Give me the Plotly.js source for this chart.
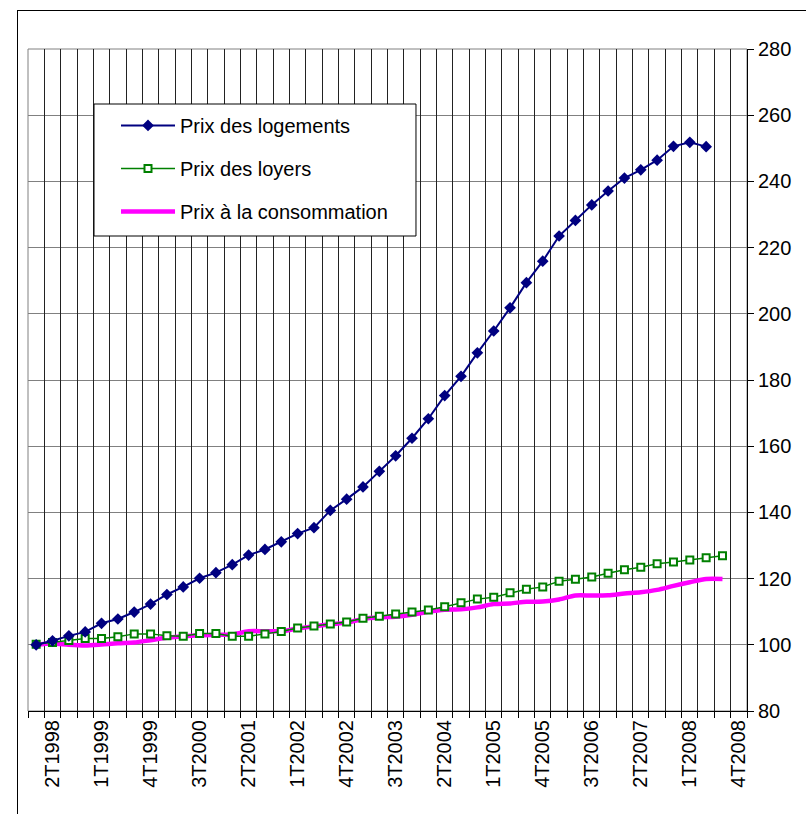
<!DOCTYPE html>
<html>
<head>
<meta charset="utf-8">
<script src="https://cdn.plot.ly/plotly-3.0.1.min.js"></script>
<style>
  html, body { margin: 0; padding: 0; background: #fff; }
  #frame { position: absolute; left: 17px; top: 10px; width: 900px; height: 900px; border-left: 1px solid #000; border-top: 1px solid #000; }
  #chart { position: absolute; left: 0; top: 0; width: 806px; height: 814px; }
</style>
</head>
<body>
<div id="frame"></div>
<div id="chart"></div>
<script>
const categories = [
  "1T1998","2T1998","3T1998","4T1998",
  "1T1999","2T1999","3T1999","4T1999",
  "1T2000","2T2000","3T2000","4T2000",
  "1T2001","2T2001","3T2001","4T2001",
  "1T2002","2T2002","3T2002","4T2002",
  "1T2003","2T2003","3T2003","4T2003",
  "1T2004","2T2004","3T2004","4T2004",
  "1T2005","2T2005","3T2005","4T2005",
  "1T2006","2T2006","3T2006","4T2006",
  "1T2007","2T2007","3T2007","4T2007",
  "1T2008","2T2008","3T2008","4T2008"
];
const tickLabels = ["2T1998","1T1999","4T1999","3T2000","2T2001","1T2002","4T2002","3T2003","2T2004","1T2005","4T2005","3T2006","2T2007","1T2008","4T2008"];

const prixLogements = [100.0, 101.2, 102.7, 103.9, 106.5, 107.8, 109.9, 112.3, 115.2, 117.5,
  120.1, 121.8, 124.2, 127.1, 128.8, 131.1, 133.6, 135.4, 140.6, 144.0,
  147.7, 152.4, 157.1, 162.4, 168.3, 175.3, 181.1, 188.2, 194.8, 201.8,
  209.4, 215.9, 223.5, 228.2, 232.9, 237.1, 241.0, 243.5, 246.4, 250.6,
  251.8, 250.5];
const prixLoyers = [100.2, 100.7, 101.3, 101.9, 101.9, 102.4, 103.3, 103.3, 102.7, 102.6,
  103.4, 103.4, 102.6, 102.6, 103.3, 104.0, 105.1, 105.7, 106.3, 106.9,
  108.0, 108.6, 109.3, 109.9, 110.5, 111.5, 112.7, 113.8, 114.4, 115.7,
  116.8, 117.5, 119.2, 119.8, 120.5, 121.6, 122.7, 123.4, 124.5, 125.0,
  125.6, 126.3, 126.9];
const prixConsommation = [100.0, 100.4, 100.0, 99.8, 100.1, 100.5, 100.7, 101.4, 102.1, 102.6,
  102.9, 103.0, 103.1, 104.1, 104.1, 104.1, 104.9, 105.6, 106.2, 106.7,
  107.8, 108.3, 108.5, 109.1, 110.0, 110.6, 110.7, 111.3, 112.3, 112.5,
  113.0, 113.1, 113.7, 114.9, 114.9, 115.0, 115.5, 115.9, 116.6, 117.8,
  118.9, 119.9, 119.9];

const FONT = "Liberation Sans, Arial, sans-serif";

const data = [
  // invisible helper trace that activates the boundary grid axis
  { type: "scatter", x: [0], y: [null], xaxis: "x2", yaxis: "y", showlegend: false, hoverinfo: "skip" },
  {
    type: "scatter", mode: "lines", name: "Prix à la consommation",
    x: categories.slice(0, prixConsommation.length), y: prixConsommation,
    line: { color: "#ff00ff", width: 4.5, shape: "spline", smoothing: 0.8 },
    legendgroup: "c", legendrank: 3, cliponaxis: false
  },
  {
    type: "scatter", mode: "lines+markers", name: "Prix des loyers",
    x: categories.slice(0, prixLoyers.length), y: prixLoyers,
    line: { color: "#008000", width: 1.5 },
    marker: { symbol: "square", size: 7, color: "#ffffff", line: { color: "#008000", width: 2 } },
    legendgroup: "b", legendrank: 2, cliponaxis: false
  },
  {
    type: "scatter", mode: "lines+markers", name: "Prix des logements",
    x: categories.slice(0, prixLogements.length), y: prixLogements,
    line: { color: "#000080", width: 2 },
    marker: { symbol: "diamond", size: 9, color: "#000080" },
    legendgroup: "a", legendrank: 1, cliponaxis: false
  }
];

const layout = {
  width: 806, height: 814,
  margin: { l: 28, r: 59, t: 49, b: 103 },
  paper_bgcolor: "rgba(0,0,0,0)",
  plot_bgcolor: "#ffffff",
  font: { family: FONT, size: 20, color: "#000" },
  showlegend: true,
  legend: {
    x: 0.1224, y: 0.914, xanchor: "left", yanchor: "top",
    bgcolor: "rgba(0,0,0,0)", borderwidth: 0,
    font: { family: FONT, size: 20, color: "#000" },
    traceorder: "grouped", tracegroupgap: 14, itemwidth: 54
  },
  xaxis: {
    type: "category", range: [-0.5, 43.5], categoryorder: "array", categoryarray: categories,
    tickmode: "array", tickvals: tickLabels, ticktext: tickLabels,
    tickangle: -90, showgrid: false, ticks: "", showline: true, linecolor: "#000", linewidth: 1,
    tickfont: { family: FONT, size: 20, color: "#000" }, zeroline: false
  },
  xaxis2: {
    overlaying: "x", anchor: "y", range: [-0.5, 43.5], tickmode: "linear", tick0: -0.5, dtick: 1,
    showgrid: true, gridcolor: "#222", gridwidth: 1, ticks: "outside", ticklen: 6, tickcolor: "#000",
    showticklabels: false, showline: false, zeroline: false
  },
  yaxis: {
    side: "right", range: [80, 280], dtick: 20, tick0: 80,
    showgrid: true, gridcolor: "#808080", gridwidth: 1,
    ticks: "outside", ticklen: 6, tickcolor: "#000",
    showline: true, linecolor: "#000", linewidth: 1, zeroline: false,
    tickfont: { family: FONT, size: 20, color: "#000" }
  },
  shapes: [
    { type: "rect", xref: "paper", yref: "paper", x0: 0, x1: 1, y0: 0, y1: 1,
      line: { color: "#808080", width: 1 }, layer: "below" },
    // legend frame
    { type: "rect", xref: "paper", yref: "paper", x0: 0.0918, x1: 0.5396, y0: 0.7175, y1: 0.9169,
      line: { color: "#000", width: 1 }, fillcolor: "#ffffff", layer: "above" }
  ]
};

Plotly.newPlot("chart", data, layout, { staticPlot: true });
</script>
</body>
</html>
